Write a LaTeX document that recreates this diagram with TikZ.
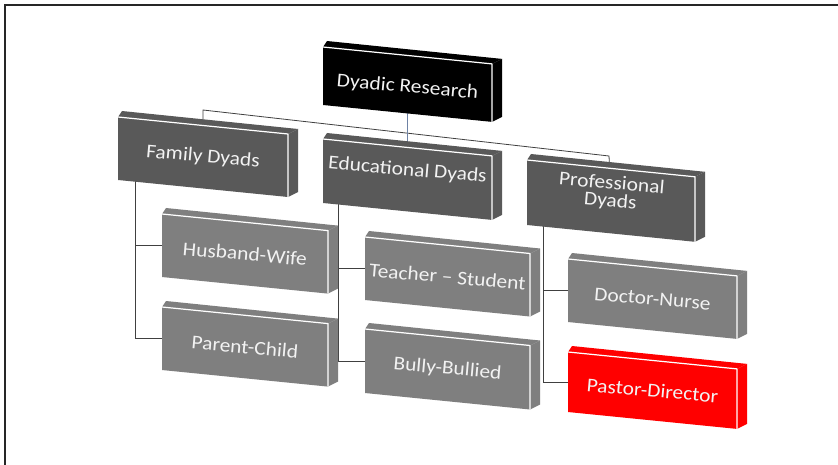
\documentclass[tikz,border=0pt]{standalone}
\usepackage{fontspec}
\setmainfont{Carlito}
\pgfdeclarelayer{bg}
\pgfsetlayers{bg,main}

\definecolor{rootfill}{RGB}{0,0,0}
\definecolor{groupfill}{RGB}{89,89,89}
\definecolor{leaffill}{RGB}{127,127,127}
\definecolor{hotfill}{RGB}{255,0,0}
\definecolor{linkgrey}{RGB}{64,64,64}
\definecolor{linkblue}{RGB}{110,130,165}
\definecolor{labeltext}{RGB}{242,242,242}

\tikzset{
  lbl/.style={text=labeltext, font=\fontsize{19.5}{18}\selectfont, align=center,
              rotate=-5, xscale=1.1, inner sep=1pt},
  link/.style={draw=linkgrey, line width=0.8pt},
  rootlink/.style={draw=linkblue, line width=0.8pt},
  edge/.style={draw=white, line width=1.2pt, line join=round},
  frame/.style={draw=black!85, line width=2pt},
}

% slanted 3-D slab: name, left x, top y, width, front height, colour, label y-offset, label
\newcommand\slab[8]{%
  \pgfmathsetmacro\xr{#2+#4}%
  \pgfmathsetmacro\yr{#3+0.1*#4}%
  \pgfmathsetmacro\yb{#3+#5}%
  \pgfmathsetmacro\ybr{\yr+#5}%
  \fill[#6] (#2,#3) -- (#2+4,#3-6) -- (\xr+10,\yr-5) -- (\xr,\yr) -- cycle;
  \fill[#6] (\xr,\yr) -- (\xr+10,\yr-5) -- (\xr+10,\ybr-5) -- (\xr,\ybr) -- cycle;
  \fill[#6] (#2,#3) -- (\xr,\yr) -- (\xr,\ybr) -- (#2,\yb) -- cycle;
  \draw[edge] (#2,#3) -- (\xr,\yr) -- (\xr,\ybr);
  \coordinate (#1-w) at (#2,#3+#5/2);
  \node[lbl] (#1) at (#2+#4/2, #3+#5/2+0.05*#4+#7) {#8};
}

\begin{document}
\begin{tikzpicture}[x=1pt, y=-1pt]
  \useasboundingbox (0,0) rectangle (838,465);

  % slabs
  \slab{root}{323}{47}{169}{58}{rootfill}{3}{Dyadic Research}
  \slab{fam}{118}{117}{170}{63}{groupfill}{0}{Family Dyads}
  \slab{edu}{323}{139}{169}{64}{groupfill}{-9}{Educational Dyads}
  \slab{pro}{527}{160}{168}{65}{groupfill}{-8}{Professional\\Dyads}
  \slab{hw}{162}{214}{166}{63}{leaffill}{0}{Husband-Wife}
  \slab{pc}{162}{307}{166}{63}{leaffill}{0}{Parent-Child}
  \slab{ts}{365}{237}{165}{63}{leaffill}{0}{Teacher – Student}
  \slab{bb}{365}{329}{165}{64}{leaffill}{0}{Bully-Bullied}
  \slab{dn}{568}{259}{169}{63}{leaffill}{0}{Doctor-Nurse}
  \slab{pd}{568}{352}{169}{60}{hotfill}{0}{Pastor-Director}

  % page, frame and connectors, behind the slabs
  \begin{pgfonlayer}{bg}
    \fill[white] (0,0) rectangle (838,465);
    \draw[frame] (5,465) -- (5,5) -- (838,5);

    \coordinate (busL) at (203,110);
    \coordinate (busR) at (609,156);
    \draw[link] (fam) -- (busL) -- (busR) -- (pro);
    \draw[rootlink] (root) -- (edu);

    \coordinate (famS) at (135,170);
    \draw[link] (famS) |- (hw-w);
    \draw[link] (famS) |- (pc-w);

    \coordinate (eduS) at (338,195);
    \draw[link] (eduS) |- (ts-w);
    \draw[link] (eduS) |- (bb-w);

    \coordinate (proS) at (543,215);
    \draw[link] (proS) |- (dn-w);
    \draw[link] (proS) |- (pd-w);
  \end{pgfonlayer}
\end{tikzpicture}
\end{document}
